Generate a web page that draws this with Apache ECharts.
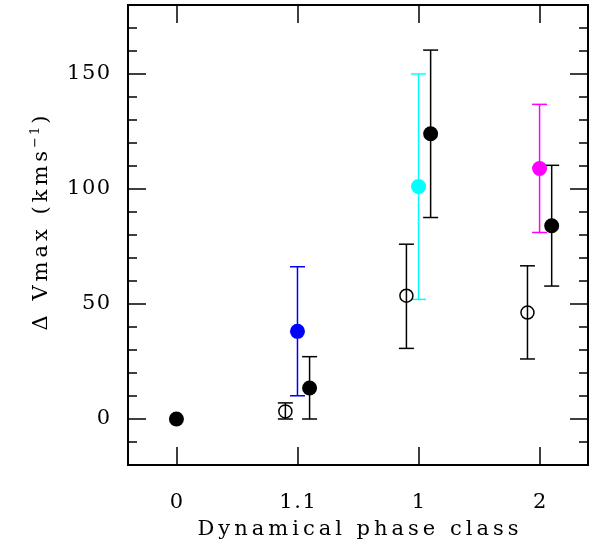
<!DOCTYPE html>
<html>
<head>
<meta charset="utf-8">
<script src="https://cdn.jsdelivr.net/npm/echarts@6/dist/echarts.min.js"></script>
<style>html,body{margin:0;padding:0;background:#fff;}#c{width:603px;height:549px;}</style>
</head>
<body>
<div id="c"></div>
<script>
// ---- data ----
const categories = ['0', '1.1', '1', '2'];
const categoryIndex = [0, 1, 2, 3];
const refIndex = [0];
const refValues = [0];
const groupIndex = [1, 2, 3];
const openValues = [3.3, 53.6, 46.3];
const openLow = [0, 30.7, 26.1];
const openHigh = [7, 76, 66.6];
const colorValues = [38.1, 101.1, 108.9];
const colorLow = [10.1, 52, 81.1];
const colorHigh = [66.2, 150, 136.8];
const blackValues = [13.5, 124, 84];
const blackLow = [0, 87.6, 57.8];
const blackHigh = [27.1, 160.4, 110.3];
const yTickValues = [0, 50, 100, 150];
const yMinorTickValues = [-10, 0, 10, 20, 30, 40, 50, 60, 70, 80, 90, 100, 110, 120, 130, 140, 150, 160, 170];
const xTitle = 'Dynamical phase class';
const yTitleMain = '\u0394 Vmax (kms';
const yTitleSup = '\u22121';
const yTitleEnd = ')';

// ---- styles ----
const OFFSET = 0.1;
const colorList = ['#0000ff', '#00ffff', '#ff00ff'];
const FONT = 'DejaVu Serif';
const FS = 21;

function spaced(str, style) {
  return Array.from(str).map(ch => '{' + style + '|' + ch + '}').join('');
}
const rich = {
  t: { fontFamily: FONT, fontSize: FS, color: '#000', padding: [0, 0.8, 0, 0.8] },
  c: { fontFamily: FONT, fontSize: FS, color: '#000', padding: [0, 2.0, 0, 2.0] },
  s: { fontFamily: FONT, fontSize: 13, color: '#000', padding: [0, 1, 13, 1] }
};

const openPts = groupIndex.map((g, i) => [g - OFFSET, openValues[i]]);
const openBars = groupIndex.map((g, i) => [g - OFFSET, openLow[i], openHigh[i]]);
const colorPts = groupIndex.map((g, i) => [g, colorValues[i]]);
const colorBars = groupIndex.map((g, i) => [g, colorLow[i], colorHigh[i]]);
const blackPts = groupIndex.map((g, i) => [g + OFFSET, blackValues[i]]).concat(refIndex.map((g, i) => [g, refValues[i]]));
const blackBars = groupIndex.map((g, i) => [g + OFFSET, blackLow[i], blackHigh[i]]);

function errRender(colorFn) {
  return function (params, api) {
    const x = api.value(0), lo = api.value(1), hi = api.value(2);
    const a = api.coord([x, lo]), b = api.coord([x, hi]);
    const w = 7.5;
    const col = colorFn(params.dataIndex);
    const st = { stroke: col, lineWidth: 1.5 };
    return {
      type: 'group',
      children: [
        { type: 'line', shape: { x1: a[0], y1: a[1], x2: b[0], y2: b[1] }, style: st },
        { type: 'line', shape: { x1: a[0] - w, y1: a[1], x2: a[0] + w, y2: a[1] }, style: st },
        { type: 'line', shape: { x1: b[0] - w, y1: b[1], x2: b[0] + w, y2: b[1] }, style: st }
      ]
    };
  };
}

const lineStyle = { color: '#000', width: 2 };
const tickStyle = { color: '#000', width: 1.5 };

function xAxisDef(pos, labels) {
  return {
    type: 'value', position: pos, min: -0.4, max: 3.4,
    axisLine: { show: true, onZero: false, lineStyle: lineStyle },
    axisTick: { show: true, inside: true, length: 18, lineStyle: tickStyle, customValues: categoryIndex },
    axisLabel: labels ? {
      show: true, customValues: categoryIndex, formatter: v => spaced(categories[Math.round(v)], 't'),
      fontFamily: FONT, fontSize: FS, color: '#000', margin: 27, rich: rich
    } : { show: false },
    splitLine: { show: false },
    name: labels ? spaced(xTitle, 'c') : '',
    nameLocation: 'middle', nameGap: 54,
    nameTextStyle: { fontFamily: FONT, fontSize: FS, color: '#000', rich: rich }
  };
}
function yAxisDef(pos, ticks, len, labels) {
  return {
    type: 'value', position: pos, min: -20, max: 180,
    axisLine: { show: true, onZero: false, lineStyle: lineStyle },
    axisTick: { show: true, inside: true, length: len, lineStyle: tickStyle, customValues: ticks },
    axisLabel: labels ? {
      show: true, customValues: yTickValues, formatter: v => spaced(String(v), 't'),
      fontFamily: FONT, fontSize: FS, color: '#000', margin: 17, rich: rich
    } : { show: false },
    splitLine: { show: false },
    name: labels ? spaced(yTitleMain, 'c') + spaced(yTitleSup, 's') + spaced(yTitleEnd, 'c') : '',
    nameLocation: 'middle', nameGap: 73,
    nameTextStyle: { fontFamily: FONT, fontSize: FS, color: '#000', rich: rich, padding: [0, 0, 0, 24] }
  };
}

const chart = echarts.init(document.getElementById('c'), null, { renderer: 'canvas' });
chart.setOption({
  backgroundColor: '#fff',
  animation: false,
  grid: { left: 128, top: 5, width: 460, height: 460, containLabel: false },
  xAxis: [xAxisDef('bottom', true), xAxisDef('top', false)],
  yAxis: [
    yAxisDef('left', yTickValues, 18, true),
    yAxisDef('left', yMinorTickValues, 9, false),
    yAxisDef('right', yTickValues, 18, false),
    yAxisDef('right', yMinorTickValues, 9, false)
  ],
  series: [
    { type: 'custom', renderItem: errRender(() => '#000'), data: openBars, encode: { x: 0, y: [1, 2] }, z: 2 },
    { type: 'custom', renderItem: errRender(i => colorList[i]), data: colorBars, encode: { x: 0, y: [1, 2] }, z: 2 },
    { type: 'custom', renderItem: errRender(() => '#000'), data: blackBars, encode: { x: 0, y: [1, 2] }, z: 2 },
    { type: 'scatter', data: openPts, symbol: 'circle', symbolSize: 13,
      itemStyle: { color: 'rgba(0,0,0,0)', borderColor: '#000', borderWidth: 1.5, opacity: 1 }, z: 3 },
    { type: 'scatter', data: colorPts, symbol: 'circle', symbolSize: 15,
      itemStyle: { color: p => colorList[p.dataIndex], opacity: 1 }, z: 3 },
    { type: 'scatter', data: blackPts, symbol: 'circle', symbolSize: 15,
      itemStyle: { color: '#000', opacity: 1 }, z: 3 }
  ]
});
</script>
</body>
</html>
